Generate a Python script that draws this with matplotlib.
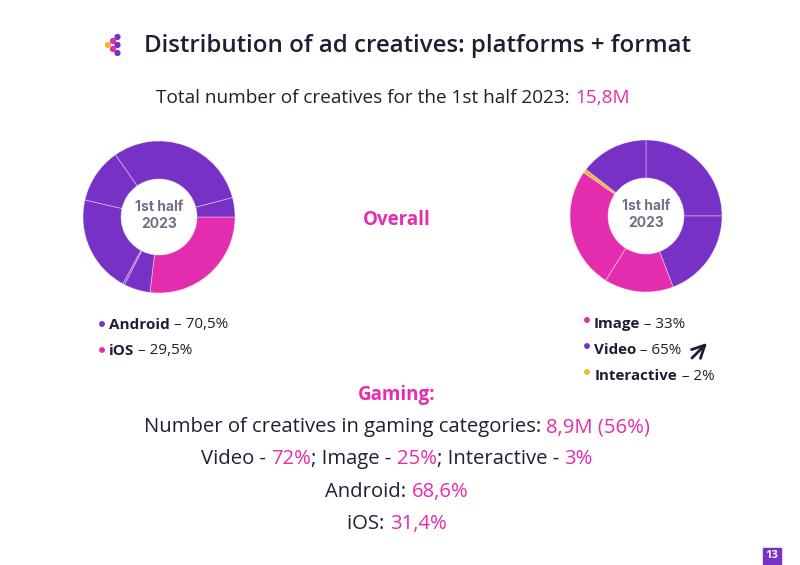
import matplotlib
matplotlib.use("Agg")
import matplotlib.pyplot as plt
from matplotlib.patches import Rectangle, Circle

# ---------------- data ----------------
PURPLE = "#7731C5"
PINK = "#E32DAE"
YELLOW = "#F6B22B"
DARK = "#1F1F33"
GRAY = "#6E7184"

title = "Distribution of ad creatives: platforms + format"
subtitle_parts = [("Total number of creatives for the 1st half 2023: ", DARK), ("15,8M", PINK)]

# left donut (platforms), clockwise from 3 o'clock
left_values = [26.9, 5.6, 0.4, 20.7, 11.7, 30.6, 4.1]
left_colors = [PINK, PURPLE, PURPLE, PURPLE, PURPLE, PURPLE, PURPLE]

# right donut (format), clockwise from 12 o'clock
right_values = [25.0, 19.2, 14.7, 25.8, 0.8, 14.5]
right_colors = [PURPLE, PURPLE, PINK, PINK, YELLOW, PURPLE]

center_label = "1st half\n2023"

left_legend_names = ["Android", "iOS"]
left_legend_vals = ["70,5%", "29,5%"]
left_legend_colors = [PURPLE, PINK]

right_legend_names = ["Image", "Video", "Interactive"]
right_legend_vals = ["33%", "65%", "2%"]
right_legend_colors = [PINK, PURPLE, YELLOW]

gaming_lines = [
    [("Number of creatives in gaming categories: ", DARK), ("8,9M (56%)", PINK)],
    [("Video - ", DARK), ("72%", PINK), ("; Image - ", DARK), ("25%", PINK),
     ("; Interactive - ", DARK), ("3%", PINK)],
    [("Android: ", DARK), ("68,6%", PINK)],
    [("iOS: ", DARK), ("31,4%", PINK)],
]

FONT = "Open Sans"
W, H = 800, 565

fig = plt.figure(figsize=(W / 100, H / 100), dpi=100)
fig.patch.set_facecolor("white")
ov = fig.add_axes([0, 0, 1, 1])
ov.set_xlim(0, W)
ov.set_ylim(H, 0)
ov.axis("off")
renderer = fig.canvas.get_renderer()


def width_of(s, size, weight):
    t = ov.text(0, 0, s.replace(" ", "\u00a0"), fontsize=size, fontweight=weight, family=FONT)
    w = t.get_window_extent(renderer).width
    t.remove()
    return w


def rich(x, y, parts, size, ha="center"):
    parts = [(p[0], p[1], p[2] if len(p) > 2 else "normal") for p in parts]
    widths = [width_of(s, size, wt) for s, c, wt in parts]
    total = sum(widths)
    x0 = x - total / 2 if ha == "center" else x
    for (s, c, wt), w in zip(parts, widths):
        ov.text(x0, y, s.replace(" ", "\u00a0"), fontsize=size, fontweight=wt, color=c,
                family=FONT, ha="left", va="center")
        x0 += w


# title + logo
ov.text(418, 46, title, fontsize=17.3, fontweight="semibold", color=DARK, family=FONT,
        ha="center", va="center")
ov.plot([113, 117, 113, 117], [41, 45, 49, 53], color=PURPLE, lw=1.2, alpha=0.6, zorder=2)
ov.plot([117, 113, 117], [37, 41, 45], color=PINK, lw=1.2, alpha=0.6, zorder=2)
for (cx, cy, col) in [(108, 45, YELLOW), (113, 41, PINK), (113, 49, PINK),
                      (117.5, 37, PURPLE), (117.5, 45, PURPLE), (117.5, 53, PURPLE)]:
    ov.add_patch(Circle((cx, cy), 2.4, color=col, zorder=3))

rich(393, 98, subtitle_parts, 13.7)


def donut(cx, cy, r, values, colors, startangle):
    ax = fig.add_axes([(cx - r) / W, 1 - (cy + r) / H, 2 * r / W, 2 * r / H])
    ax.pie(values, colors=colors, startangle=startangle, counterclock=False, radius=1,
           wedgeprops=dict(width=0.5, edgecolor=(1, 1, 1, 0.45), linewidth=0.6))
    ax.set_xlim(-1, 1)
    ax.set_ylim(-1, 1)
    ax.set_aspect("equal")
    ax.axis("off")
    ax.text(0, 0.02, center_label, ha="center", va="center", fontsize=10, fontweight="bold",
            color=GRAY, family="Inter", linespacing=1.35)


donut(159, 217, 76, left_values, left_colors, 0)
donut(646, 216, 76, right_values, right_colors, 90)

ov.text(397, 220, "Overall", fontsize=13.5, fontweight="bold", color=PINK, family=FONT,
        ha="center", va="center")

# legends
for i, (n, v, c) in enumerate(zip(left_legend_names, left_legend_vals, left_legend_colors)):
    y = 325 + 26 * i
    ov.add_patch(Circle((102, y - 1), 2.2, color=c))
    rich(109, y, [(n, DARK, "bold"), (" \u2013 " + v, DARK)], 11, ha="left")

for i, (n, v, c) in enumerate(zip(right_legend_names, right_legend_vals, right_legend_colors)):
    y = 324 + 26 * i
    ov.add_patch(Circle((587, y - 4), 2.2, color=c))
    rich(594 + (1 if i == 2 else 0), y, [(n, DARK, "bold"), (" \u2013 " + v, DARK)], 10.9, ha="left")

ov.annotate("", xy=(709, 341), xytext=(690, 360),
            arrowprops=dict(arrowstyle="->,head_length=0.9,head_width=0.45", color=DARK, lw=2))

# gaming
ov.text(397, 395, "Gaming:", fontsize=13.5, fontweight="bold", color=PINK, family=FONT,
        ha="center", va="center")
for i, parts in enumerate(gaming_lines):
    rich(397, 427 + 32.3 * i, parts, 14.6)

# page number
ov.add_patch(Rectangle((763, 548), 18, 16, color=PURPLE, zorder=2))
ov.text(772, 556, "13", fontsize=8, fontweight="bold", color="white", family=FONT,
        ha="center", va="center", zorder=3)

fig.savefig("out.png", dpi=100)
